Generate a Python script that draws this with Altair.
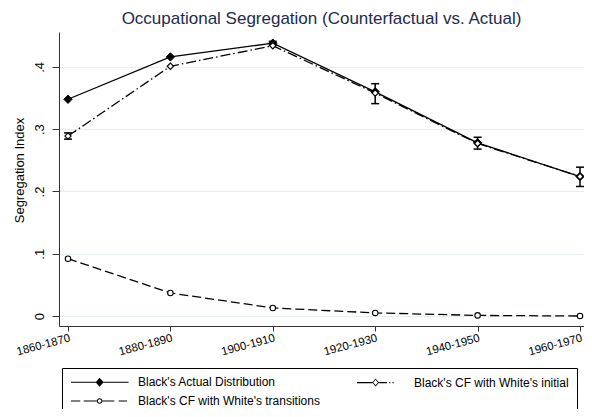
import json
import math
import altair as alt
import pandas as pd

periods = ["1860-1870", "1880-1890", "1900-1910", "1920-1930", "1940-1950", "1960-1970"]
series_names = [
    "Black's Actual Distribution",
    "Black's CF with White's initial",
    "Black's CF with White's transitions",
]
actual = [0.348, 0.416, 0.438, 0.360, 0.278, 0.224]
actual_lo = [0.348, 0.416, 0.435, 0.341, 0.268, 0.208]
actual_hi = [0.348, 0.416, 0.441, 0.373, 0.287, 0.239]
cf_initial = [0.289, 0.401, 0.434, 0.358, 0.277, 0.224]
cf_initial_lo = [0.284, 0.401, 0.434, 0.358, 0.277, 0.224]
cf_initial_hi = [0.294, 0.401, 0.434, 0.358, 0.277, 0.224]
cf_trans = [0.092, 0.037, 0.013, 0.005, 0.001, 0.000]

rows = []
for vals, lo, hi, name in [
    (actual, actual_lo, actual_hi, series_names[0]),
    (cf_initial, cf_initial_lo, cf_initial_hi, series_names[1]),
    (cf_trans, cf_trans, cf_trans, series_names[2]),
]:
    for i, v in enumerate(vals):
        rows.append({"idx": i, "period": periods[i], "series": name,
                     "value": v, "lo": lo[i], "hi": hi[i]})
df = pd.DataFrame(rows)
err = df[(df["hi"] - df["lo"]) > 0.001]

FONT = "Liberation Sans"

xscale = alt.Scale(domain=[-0.0879, 5.039], nice=False, zero=False)
yscale = alt.Scale(domain=[-0.016, 0.456], nice=False, zero=False)

xaxis = alt.Axis(
    values=[0, 1, 2, 3, 4, 5],
    labelExpr=json.dumps(periods) + "[datum.value]",
    labelAngle=-15, labelAlign="right", labelBaseline="top",
    labelFontSize=11.5, labelPadding=1, tickSize=5, grid=False,
    domainColor="#333333", tickColor="#333333", labelColor="black",
    title=None,
)
yaxis = alt.Axis(
    values=[0, 0.1, 0.2, 0.3, 0.4],
    labelExpr="datum.value == 0 ? '0' : substring(format(datum.value, '.1f'), 1)",
    labelAngle=-90, labelAlign="center", labelBaseline="bottom",
    labelFontSize=13, labelPadding=6, tickSize=7, grid=True,
    gridColor="#e6eef1", gridWidth=1,
    domainColor="#333333", tickColor="#333333", labelColor="black",
    title="Segregation Index", titleFontSize=13, titleFontWeight="normal",
    titleColor="black", titlePadding=7, titleY=138,
)


def X(field="idx"):
    return alt.X(f"{field}:Q", scale=xscale, axis=xaxis)


def Y(field="value"):
    return alt.Y(f"{field}:Q", scale=yscale, axis=yaxis)


def series_chart(k, data=df):
    return alt.Chart(data).transform_filter(alt.datum.series == series_names[k])


line_actual = series_chart(0).mark_line(color="black", strokeWidth=1.3).encode(x=X(), y=Y())
line_init = series_chart(1).mark_line(color="black", strokeWidth=1.3, strokeDash=[10, 3, 1.5, 3]).encode(x=X(), y=Y())
line_trans = series_chart(2).mark_line(color="black", strokeWidth=1.3, strokeDash=[9, 4]).encode(x=X(), y=Y())

rules = alt.Chart(err).mark_rule(color="black", strokeWidth=1.5).encode(
    x=X(), y=Y("lo"), y2="hi:Q"
)
cap_lo = alt.Chart(err).mark_tick(orient="horizontal", color="black", thickness=1.5, size=8, opacity=1).encode(
    x=X(), y=Y("lo")
)
cap_hi = alt.Chart(err).mark_tick(orient="horizontal", color="black", thickness=1.5, size=8, opacity=1).encode(
    x=X(), y=Y("hi")
)

pts_actual = series_chart(0).mark_point(shape="diamond", filled=True, fill="black", stroke="black",
                                        strokeWidth=1, size=70, opacity=1).encode(x=X(), y=Y())
pts_init = series_chart(1).mark_point(shape="diamond", filled=True, fill="white", stroke="black",
                                      strokeWidth=1.1, size=40, opacity=1).encode(x=X(), y=Y())
pts_trans = series_chart(2).mark_point(shape="circle", filled=True, fill="white", stroke="black",
                                       strokeWidth=1.1, size=30, opacity=1).encode(x=X(), y=Y())


# ---- legend symbols, drawn as filled outlines (units scaled by sqrt(size)/2 = 5px)
H = 0.12  # half thickness of the legend line pieces


def seg(x0, x1):
    return f"M{x0},{-H} L{x1},{-H} L{x1},{H} L{x0},{H} Z"


def poly(cx, rx, ry, n, reverse=False):
    ks = range(n - 1, -1, -1) if reverse else range(n)
    pts = [(cx + rx * math.cos(2 * math.pi * k / n), ry * math.sin(2 * math.pi * k / n)) for k in ks]
    return "M" + " L".join(f"{x:.3f},{y:.3f}" for x, y in pts) + " Z"


def ring(cx, rx, ry, t, n):
    return poly(cx, rx, ry, n) + " " + poly(cx, rx - t, ry - t, n, reverse=True)


C = 4.72
sym_actual = seg(-1, 10.5) + " " + poly(C, 0.8, 0.9, 4)
sym_init = " ".join([seg(1, 4.0), ring(C, 0.72, 0.78, 0.24, 4), seg(5.44, 7.0),
                     seg(7.44, 7.66), seg(8.1, 8.32)])
sym_trans = " ".join([seg(-1, 0.86), seg(1.54, 4.15), ring(C, 0.56, 0.56, 0.22, 16),
                      seg(5.29, 7.66), seg(8.54, 10.2)])

leg = alt.Legend(
    title=None, orient="none", legendX=3, legendY=336, columns=2, direction="horizontal",
    strokeColor="black", fillColor="white", padding=8,
    labelFontSize=12, labelColor="black", labelFont=FONT,
    symbolSize=100, symbolFillColor="black", symbolOpacity=1,
    labelOffset=56, columnPadding=26, rowPadding=5,
    labelLimit=400,
)
# legend-only layer: its points sit outside the x domain and are clipped away
legend_layer = alt.Chart(df).transform_calculate(off="-1").mark_point(
    filled=True, color="black", opacity=1, clip=True
).encode(
    x=X("off"), y=Y(),
    shape=alt.Shape("series:N", scale=alt.Scale(domain=series_names, range=[sym_actual, sym_init, sym_trans]), legend=leg),
)

chart = alt.layer(
    line_actual, line_init, line_trans, rules, cap_lo, cap_hi,
    pts_actual, pts_init, pts_trans, legend_layer
).properties(
    width=525, height=294,
    title=alt.TitleParams(
        "Occupational Segregation (Counterfactual vs. Actual)",
        fontSize=17, font=FONT, fontWeight="normal", color="#1c2b4f",
        anchor="middle", offset=4,
    ),
    autosize=alt.AutoSizeParams(type="none"),
    padding={"left": 51, "top": 24, "right": 0, "bottom": 83},
).configure(
    font=FONT,
).configure_view(
    stroke=None,
).configure_axis(
    labelFont=FONT, titleFont=FONT,
)

chart.save("out.html", embed_options={"renderer": "svg", "actions": False})
